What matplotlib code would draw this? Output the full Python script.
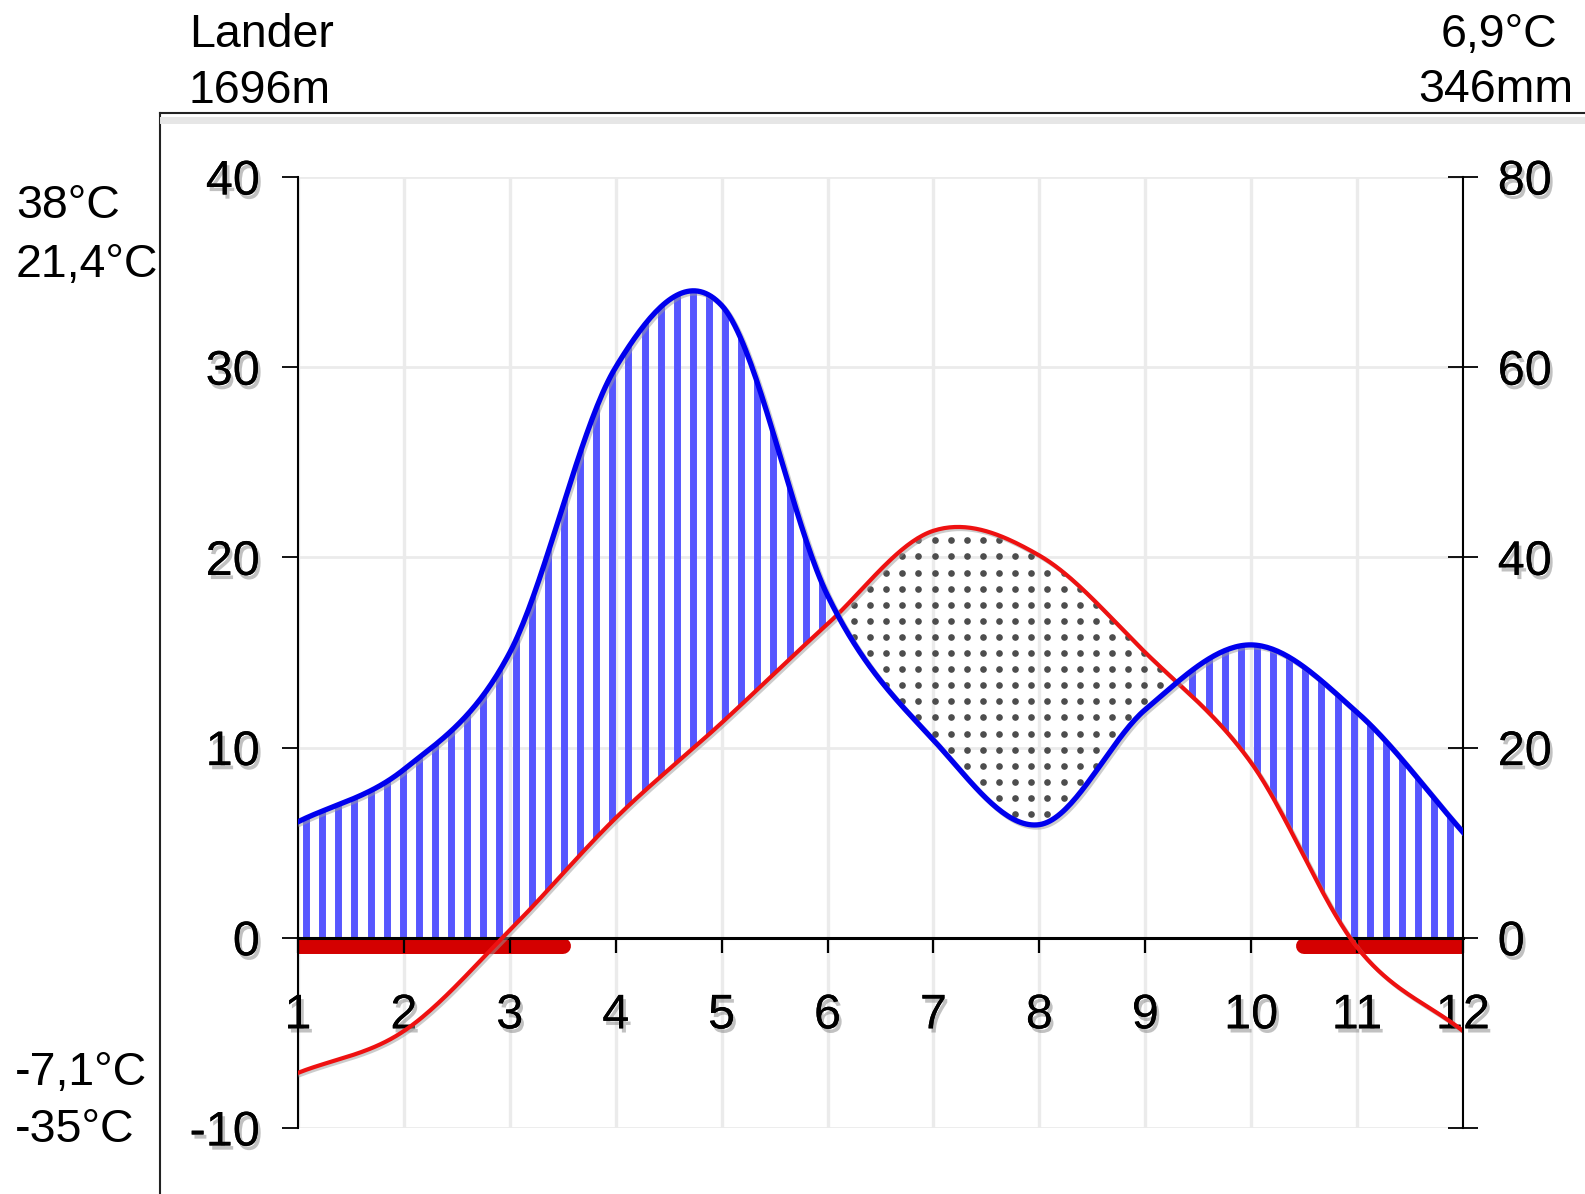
import numpy as np
import matplotlib
matplotlib.use("Agg")
import matplotlib.pyplot as plt
import matplotlib.patheffects as pe
from matplotlib.path import Path
from matplotlib.lines import Line2D

# station info
station = "Lander"
elevation = "1696m"
mean_temp_label = "6,9°C"
total_precip_label = "346mm"
left_top_labels = ["38°C", "21,4°C"]
left_bottom_labels = ["-7,1°C", "-35°C"]

# monthly values
months = [1, 2, 3, 4, 5, 6, 7, 8, 9, 10, 11, 12]
temp = [-7.1, -4.9, 0.4, 6.3, 11.3, 16.5, 21.4, 20.1, 15.0, 9.2, -0.5, -4.9]
precip = [12.2, 17.7, 30.0, 60.0, 66.5, 36.0, 20.8, 11.9, 24.0, 30.8, 23.7, 11.1]
frost_months = [1, 2, 3, 11, 12]

temp_ticks = [-10, 0, 10, 20, 30, 40]
precip_ticks = [-20, 0, 20, 40, 60, 80]
precip_ticklabels = ["", "0", "20", "40", "60", "80"]

W, H = 1585, 1194
FONT = "Liberation Sans"


def smooth(x, y, n=40):
    # catmull-rom style smoothing, like the "smoothed line" option of the original tool
    x = np.asarray(x, float)
    y = np.asarray(y, float)
    yp = np.concatenate([[2 * y[0] - y[1]], y, [2 * y[-1] - y[-2]]])
    t = np.linspace(0, 1, n, endpoint=False)
    xs, ys = [], []
    for i in range(len(x) - 1):
        p0, p1, p2, p3 = yp[i:i + 4]
        m1 = (p2 - p0) / 2
        m2 = (p3 - p1) / 2
        h00 = 2 * t**3 - 3 * t**2 + 1
        h10 = t**3 - 2 * t**2 + t
        h01 = -2 * t**3 + 3 * t**2
        h11 = t**3 - t**2
        xs.append(x[i] + t * (x[i + 1] - x[i]))
        ys.append(h00 * p1 + h10 * m1 + h01 * p2 + h11 * m2)
    xs.append([x[-1]])
    ys.append([y[-1]])
    return np.concatenate(xs), np.concatenate(ys)


def as_clip(coll):
    paths = coll.get_paths()
    return Path.make_compound_path(*paths)


fig = plt.figure(figsize=(W / 100, H / 100), dpi=100)
ax = fig.add_axes([298 / W, 1 - 1128 / H, (1463 - 298) / W, (1128 - 177) / H])
ax2 = ax.twinx()

ax.set_xlim(1, 12)
ax.set_ylim(-10, 40)
ax2.set_ylim(-20, 80)

xs, ts = smooth(months, temp)
_, ps = smooth(months, precip)
ps_t = ps / 2  # precipitation on the temperature scale (10 °C = 20 mm)

# light grid
for m in months:
    ax.axvline(m, color="#ebebeb", lw=2.4, zorder=0.2)
for t in temp_ticks:
    ax.axhline(t, color="#ebebeb", lw=2.0, zorder=0.2)

# humid period: vertical blue stripes
lower = np.maximum(ts, 0)
wet = ax.fill_between(xs, lower, ps_t, where=ps_t > lower, interpolate=True,
                      facecolor="none", edgecolor="none")
step_x = 16.1 / 105.8
stripe_x = np.arange(1 + step_x / 2, 12, step_x)
stripes = ax.vlines(stripe_x, -10, 40, colors="#5656ff", linewidth=5.0, zorder=1)
stripes.set_clip_path(as_clip(wet), ax.transData)

# dry period: grey dots
dry = ax.fill_between(xs, ps_t, ts, where=ts > ps_t, interpolate=True,
                      facecolor="none", edgecolor="none")
step_y = 16.1 / 19.02
gx, gy = np.meshgrid(np.arange(1 + step_x / 2, 12, step_x),
                     np.arange(-10 + step_y / 2, 40, step_y))
dots = ax.scatter(gx.ravel(), gy.ravel(), s=23, color="#4d4d4d", linewidths=0, zorder=1)
dots.set_clip_path(as_clip(dry), ax.transData)

# frost months as a thick red bar under the zero line
runs = []
for m in frost_months:
    if runs and m == runs[-1][1] + 1:
        runs[-1][1] = m
    else:
        runs.append([m, m])
for a, b in runs:
    ax.plot([a - 0.5, b + 0.5], [-0.42, -0.42], color="#d40000", lw=11.5,
            solid_capstyle="round", zorder=1.2)

# curves
shadow = [pe.SimpleLineShadow(offset=(1.5, -1.5), shadow_color="#9a9a9a", alpha=0.5), pe.Normal()]
ax.plot(xs, ts, color="#ee1111", lw=3.0, zorder=3, path_effects=shadow)
ax2.plot(xs, ps, color="#0000ee", lw=3.8, zorder=3, path_effects=shadow)

# axes styling
for a in (ax, ax2):
    a.spines["top"].set_visible(False)
ax.spines["right"].set_visible(False)
ax2.spines["left"].set_visible(False)
ax2.spines["bottom"].set_visible(False)
ax.spines["bottom"].set_position(("data", 0))
ax.spines["bottom"].set_linewidth(2.2)
ax.spines["left"].set_linewidth(1.5)
ax2.spines["right"].set_linewidth(1.5)

label_fx = [pe.withSimplePatchShadow(offset=(2, -3), shadow_rgbFace="#777777", alpha=0.45), pe.Normal()]

ax.set_xticks(months)
ax.set_xticklabels([str(m) for m in months])
ax.tick_params(axis="x", direction="out", length=11, width=1.6, pad=29,
               labelsize=35, colors="black")
ax.set_yticks(temp_ticks)
ax.set_yticklabels([str(t) for t in temp_ticks])
ax.tick_params(axis="y", direction="out", length=11.5, width=1.3, pad=16,
               labelsize=35)
ax2.set_yticks(precip_ticks)
ax2.set_yticklabels(precip_ticklabels)
ax2.tick_params(axis="y", direction="inout", length=22, width=1.3, pad=14,
                labelsize=35)
for lab in ax.get_xticklabels() + ax.get_yticklabels() + ax2.get_yticklabels():
    lab.set_fontfamily(FONT)
    lab.set_path_effects(label_fx)

# outer frame
fig.add_artist(Line2D([160 / W, 160 / W], [0, 1 - 113 / H], transform=fig.transFigure,
                      color="#222222", lw=1.5))
fig.add_artist(Line2D([160 / W, 1], [1 - 113 / H, 1 - 113 / H], transform=fig.transFigure,
                      color="#222222", lw=1.5))
fig.add_artist(Line2D([163 / W, 1], [1 - 120 / H, 1 - 120 / H], transform=fig.transFigure,
                      color="#e6e6e6", lw=5))

# header and side texts
txt = dict(fontsize=33.5, family=FONT, va="baseline")
fig.text(189 / W, 1 - 47 / H, station, ha="left", **txt)
fig.text(189 / W, 1 - 103 / H, elevation, ha="left", **txt)
fig.text(1557 / W, 1 - 47 / H, mean_temp_label, ha="right", **txt)
fig.text(1573 / W, 1 - 102 / H, total_precip_label, ha="right", **txt)
fig.text(16 / W, 1 - 218 / H, left_top_labels[0], ha="left", **txt)
fig.text(16 / W, 1 - 277 / H, left_top_labels[1], ha="left", **txt)
fig.text(15 / W, 1 - 1085 / H, left_bottom_labels[0], ha="left", **txt)
fig.text(15 / W, 1 - 1142 / H, left_bottom_labels[1], ha="left", **txt)

fig.savefig("out.png", dpi=100)
